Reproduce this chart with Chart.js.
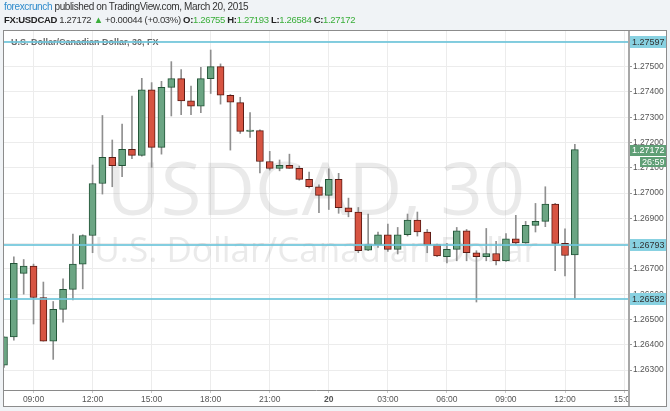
<!DOCTYPE html>
<html>
<head>
<meta charset="utf-8">
<script src="https://cdn.jsdelivr.net/npm/chart.js@4/dist/chart.umd.min.js"></script>
<style>
  body { margin: 0; background: #f0f3f6; }
  #wrap { position: relative; width: 670px; height: 411px; overflow: hidden; }
  canvas { position: absolute; left: 0; top: 0; }
  .hdr { position: absolute; left: 4px; font-family: "Liberation Sans", Arial, sans-serif; white-space: nowrap; color: #333; }
  #l1 { top: 1px; font-size: 10px; letter-spacing: -0.38px; }
  #l2 { top: 14px; font-size: 9.5px; letter-spacing: -0.33px; }
  .brand { color: #2f8bcc; }
  .b { font-weight: bold; color: #222; }
  .g { color: #3aae3a; }
</style>
</head>
<body>
<div id="wrap">
  <canvas id="chart" width="670" height="411"></canvas>
  <div class="hdr" id="l1"><span class="brand">forexcrunch</span> published on TradingView.com, March 20, 2015</div>
  <div class="hdr" id="l2"><span class="b">FX:USDCAD</span> 1.27172 <span class="g">&#9650;</span> +0.00044 (+0.03%) <span class="b">O:</span><span class="g">1.26755</span> <span class="b">H:</span><span class="g">1.27193</span> <span class="b">L:</span><span class="g">1.26584</span> <span class="b">C:</span><span class="g">1.27172</span></div>
</div>
<script>
  // 30 minute candles, 19 Mar 07:30 -> 20 Mar 12:30
  const opens = [1.26319, 1.26431, 1.26682, 1.26711, 1.26587, 1.26414, 1.26540, 1.26619, 1.26719, 1.26832,
    1.27038, 1.27141, 1.27108, 1.27173, 1.27149, 1.27408, 1.27181, 1.27418, 1.27453, 1.27365,
    1.27344, 1.27453, 1.27500, 1.27387, 1.27358, 1.27244, 1.27247, 1.27125, 1.27098, 1.27110,
    1.27098, 1.27054, 1.27025, 1.26991, 1.27054, 1.26942, 1.26925, 1.26774, 1.26796, 1.26835,
    1.26777, 1.26835, 1.26893, 1.26846, 1.26796, 1.26748, 1.26777, 1.26851, 1.26764, 1.26748,
    1.26761, 1.26732, 1.26819, 1.26803, 1.26872, 1.26888, 1.26956, 1.26801, 1.26755];
  const highs = [1.26431, 1.26748, 1.26737, 1.26719, 1.26648, 1.26571, 1.26661, 1.26838, 1.26835, 1.27111,
    1.27307, 1.27210, 1.27273, 1.27384, 1.27454, 1.27437, 1.27442, 1.27520, 1.27489, 1.27423,
    1.27497, 1.27566, 1.27511, 1.27390, 1.27379, 1.27318, 1.27250, 1.27165, 1.27131, 1.27154,
    1.27107, 1.27083, 1.27033, 1.27096, 1.27078, 1.26980, 1.26943, 1.26917, 1.26846, 1.26877,
    1.26864, 1.26917, 1.26925, 1.26856, 1.26798, 1.26801, 1.26864, 1.26856, 1.26772, 1.26860,
    1.26809, 1.26840, 1.26912, 1.26888, 1.26959, 1.27025, 1.26959, 1.26859, 1.27193];
  const lows = [1.26310, 1.26418, 1.26600, 1.26482, 1.26414, 1.26342, 1.26489, 1.26577, 1.26621, 1.26764,
    1.26996, 1.27025, 1.27065, 1.27136, 1.27146, 1.27102, 1.27154, 1.27305, 1.27310, 1.27310,
    1.27318, 1.27394, 1.27352, 1.27170, 1.27236, 1.27220, 1.27080, 1.27091, 1.27088, 1.27098,
    1.27051, 1.27020, 1.26922, 1.26935, 1.26920, 1.26906, 1.26764, 1.26772, 1.26785, 1.26769,
    1.26759, 1.26830, 1.26830, 1.26764, 1.26748, 1.26724, 1.26732, 1.26732, 1.26569, 1.26732,
    1.26716, 1.26730, 1.26798, 1.26801, 1.26846, 1.26867, 1.26693, 1.26672, 1.26584];
  const closes = [1.26431, 1.26722, 1.26711, 1.26587, 1.26414, 1.26540, 1.26619, 1.26719, 1.26832, 1.27038,
    1.27141, 1.27108, 1.27173, 1.27149, 1.27408, 1.27181, 1.27418, 1.27453, 1.27365, 1.27344,
    1.27453, 1.27500, 1.27387, 1.27360, 1.27244, 1.27249, 1.27125, 1.27098, 1.27110, 1.27098,
    1.27054, 1.27025, 1.26991, 1.27054, 1.26942, 1.26925, 1.26772, 1.26796, 1.26835, 1.26777,
    1.26835, 1.26893, 1.26846, 1.26796, 1.26751, 1.26777, 1.26851, 1.26764, 1.26748, 1.26761,
    1.26732, 1.26819, 1.26803, 1.26872, 1.26888, 1.26956, 1.26801, 1.26753, 1.27172];

  // tick positions are candle indexes (every 6 bars = 3 hours)
  const xTickPos = [3, 9, 15, 21, 27, 33, 39, 45, 51, 57, 63];
  const xTickLabels = ['09:00', '12:00', '15:00', '18:00', '21:00', '20', '03:00', '06:00', '09:00', '12:00', '15:00'];
  const yTicks = [1.263, 1.264, 1.265, 1.266, 1.267, 1.268, 1.269, 1.270, 1.271, 1.272, 1.273, 1.274, 1.275, 1.276];
  const levels = [1.27597, 1.26793, 1.26582];
  const countdown = '26:59';
  const wmMain = 'USDCAD, 30';
  const wmSub = 'U.S. Dollar/Canadian Dollar';
  const caption = 'U.S. Dollar/Canadian Dollar, 30, FX';

  Chart.defaults.font.family = '"Liberation Sans", Arial, sans-serif';

  const idx = opens.map((o, i) => i);
  const up = idx.map(i => closes[i] >= opens[i]);

  const decor = {
    id: 'decor',
    beforeDraw(chart) {
      const c = chart.ctx;
      c.save();
      c.fillStyle = '#ffffff';
      c.fillRect(3, 30, 664, 377);
      c.restore();
    },
    beforeDatasetsDraw(chart) {
      const c = chart.ctx, a = chart.chartArea;
      c.save();
      c.beginPath();
      c.rect(a.left, a.top, a.right - a.left, a.bottom - a.top);
      c.clip();
      const cx = (a.left + a.right) / 2;
      c.fillStyle = 'rgba(150,150,150,0.2)';
      c.textAlign = 'center';
      c.textBaseline = 'alphabetic';
      c.font = '74px "Open Sans"';
      c.fillText(wmMain, cx, 215);
      c.font = '35px "Open Sans"';
      c.fillText(wmSub, cx, 262);
      c.textAlign = 'left';
      c.fillStyle = '#666';
      c.font = 'bold 9px "Liberation Sans"';
      c.fillText(caption, 11, 45);
      c.restore();
    },
    afterDraw(chart) {
      const c = chart.ctx, a = chart.chartArea, y = chart.scales.y;
      c.save();
      // hide the x label spilling past the price axis
      c.fillStyle = '#ffffff';
      c.fillRect(a.right, a.bottom + 1, 667 - a.right, 406 - a.bottom - 1);
      c.fillStyle = '#a8a8a8';
      c.fillRect(a.right, 30, 2, 377);

      c.font = '9px "Liberation Sans"';
      c.textBaseline = 'middle';
      c.textAlign = 'left';
      levels.forEach(v => {
        const py = Math.round(y.getPixelForValue(v));
        c.fillStyle = 'rgba(110,198,218,0.85)';
        c.fillRect(a.left, py - 1, a.right - a.left, 2);
        c.fillStyle = '#88d1e1';
        c.fillRect(a.right + 2, py - 6, 36, 12);
        c.fillStyle = '#333';
        c.fillText(v.toFixed(5), a.right + 4, py + 0.5);
      });

      const last = closes[closes.length - 1];
      const ly = Math.round(y.getPixelForValue(last));
      c.fillStyle = '#5f9f76';
      c.fillRect(a.right + 2, ly - 5, 36, 11);
      c.fillRect(a.right + 12, ly + 7, 26, 10);
      c.fillStyle = '#ffffff';
      c.fillText(last.toFixed(5), a.right + 4, ly + 0.5);
      c.fillText(countdown, a.right + 14, ly + 12.5);

      c.strokeStyle = '#8c8c8c';
      c.lineWidth = 1;
      c.strokeRect(3.5, 30.5, 663, 376);
      c.restore();
    }
  };

  new Chart(document.getElementById('chart'), {
    type: 'bar',
    data: {
      datasets: [
        {
          label: 'wick',
          data: idx.map(i => ({ x: i, y: [lows[i], highs[i]] })),
          backgroundColor: '#8f8f8f',
          barThickness: 1,
          grouped: false,
          clip: 0,
          order: 2
        },
        {
          label: 'body',
          data: idx.map(i => ({ x: i, y: [opens[i], closes[i]] })),
          backgroundColor: up.map(u => u ? '#6ba583' : '#d75442'),
          borderColor: up.map(u => u ? '#225437' : '#5b1a13'),
          borderWidth: 1,
          borderSkipped: false,
          barThickness: 7,
          minBarLength: 1,
          grouped: false,
          clip: 0,
          order: 1
        }
      ]
    },
    options: {
      responsive: false,
      animation: false,
      layout: { padding: { top: 31, left: 4, right: 4, bottom: 5 } },
      plugins: { legend: { display: false }, tooltip: { enabled: false } },
      scales: {
        x: {
          type: 'linear',
          min: 0,
          max: 63.4,
          offset: false,
          grid: { offset: false, color: '#ececec', tickLength: 3, tickColor: '#c8c8c8' },
          border: { color: '#8a8a8a' },
          afterBuildTicks: s => { s.ticks = xTickPos.map(v => ({ value: v })); },
          afterFit: s => { s.height = 16; },
          ticks: {
            autoSkip: false,
            maxRotation: 0,
            padding: 2,
            color: '#555',
            font: ctx => ({ size: 8.5, weight: xTickLabels[ctx.index] === '20' ? 'bold' : 'normal' }),
            callback: (v, i) => xTickLabels[i]
          }
        },
        y: {
          position: 'right',
          min: 1.262209,
          max: 1.276412,
          grid: { color: '#ececec', tickLength: 4, tickColor: '#999' },
          border: { display: false },
          afterBuildTicks: s => { s.ticks = yTicks.map(v => ({ value: v })); },
          afterFit: s => { s.width = 38; },
          ticks: {
            padding: 1,
            color: '#555',
            font: { size: 8.5 },
            callback: v => v.toFixed(5)
          }
        }
      }
    },
    plugins: [decor]
  });
</script>
</body>
</html>
